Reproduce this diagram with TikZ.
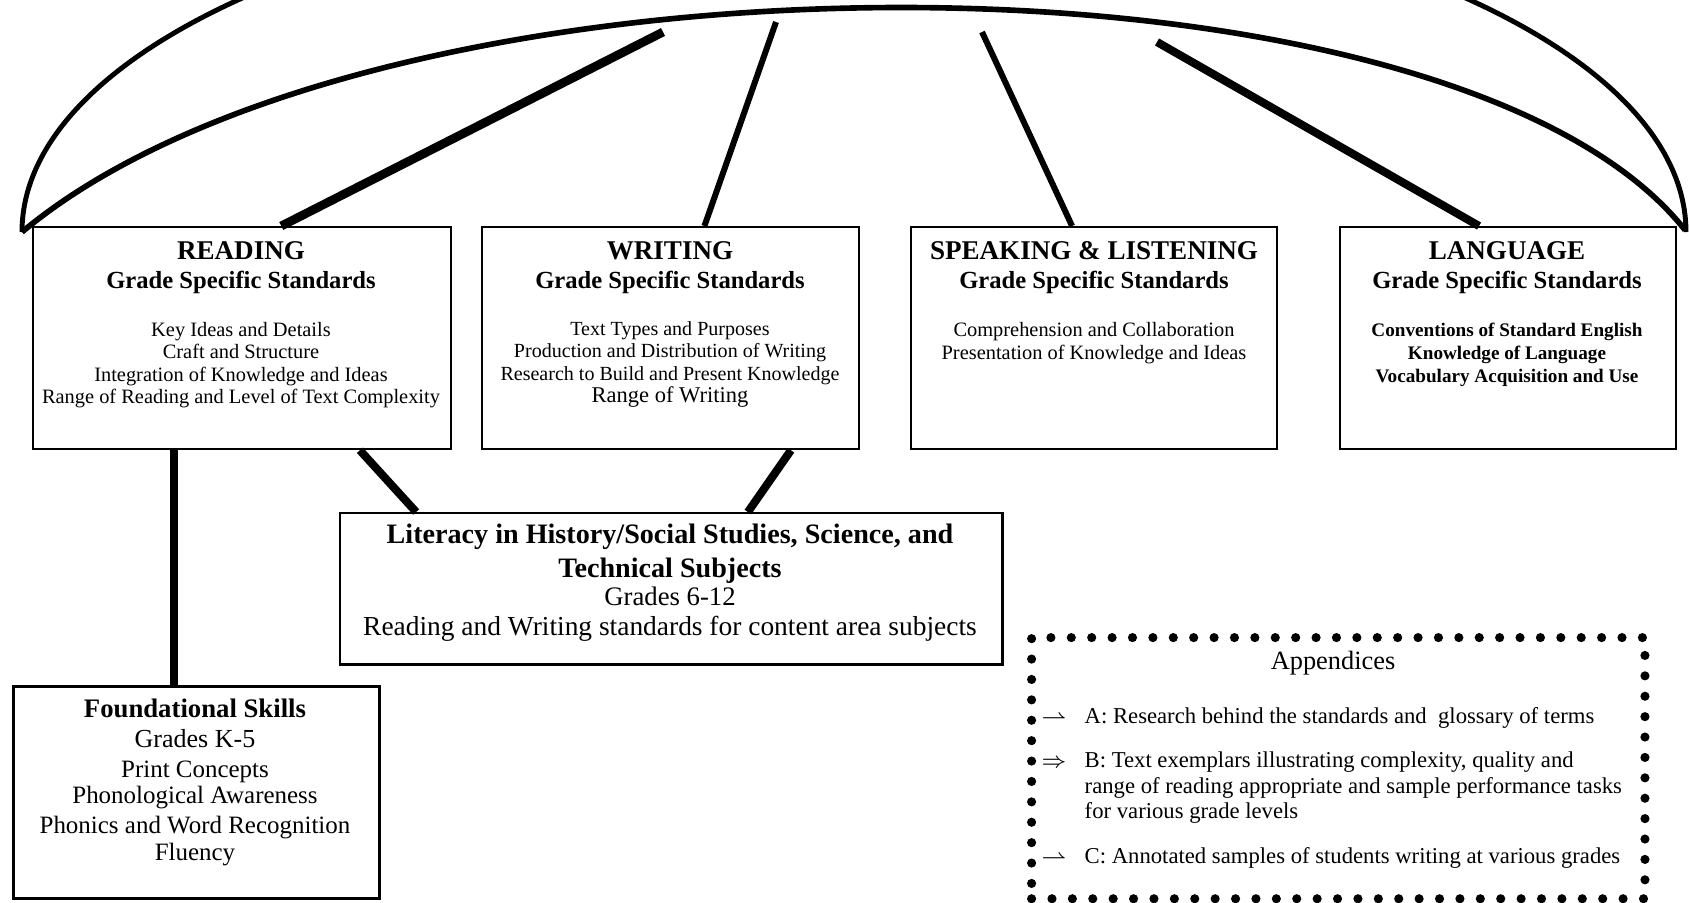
\documentclass[tikz,border=0pt]{standalone}
\usepackage{fontspec}
\setmainfont{Liberation Serif}
\usetikzlibrary{calc}
% one centred/flush line with its own size and distance from the previous baseline
\newcommand{\pline}[3]{{\fontsize{#1}{#2}\selectfont #3\par}}
\begin{document}
\begin{tikzpicture}[x=0.01cm,y=-0.01cm,
  panel/.style={draw, line width=0.6pt, inner sep=0pt, anchor=north west},
  txt/.style={inner sep=0pt, anchor=base, align=flush center},
  link/.style={line width=2.3pt},
  thinlink/.style={line width=1.7pt},
  arcline/.style={line width=1.6pt},
  dotbox/.style={draw, anchor=north west, inner sep=0pt, line width=2.6pt,
                 line cap=round, dash pattern=on 0pt off 5.8pt},
]
\useasboundingbox (0,0) rectangle (1689,902);
\clip (0,0) rectangle (1689,902);

% the two sweeping arcs over the strands
\coordinate (lc) at (22,232);
\coordinate (rc) at (1685,230);
\draw[arcline] (lc) .. controls (380,-67) and (1450,-67) .. (rc);
\draw[arcline, line width=1.4pt] (lc) arc[start angle=180, end angle=0, x radius=8.315cm, y radius=3.45cm];

% strand boxes
\node[panel, minimum width=4.18cm, minimum height=2.22cm] (reading) at (32,226) {};
\node[panel, minimum width=3.77cm, minimum height=2.22cm] (writing) at (481,226) {};
\node[panel, minimum width=3.66cm, minimum height=2.22cm] (speaking) at (910,226) {};
\node[panel, minimum width=3.36cm, minimum height=2.22cm] (language) at (1339,226) {};
\node[panel, line width=0.7pt, minimum width=6.62cm, minimum height=1.51cm] (literacy) at (339,512) {};
\node[panel, line width=0.8pt, minimum width=3.66cm, minimum height=2.12cm] (found) at (12,685) {};
\node[dotbox, minimum width=6.13cm, minimum height=2.61cm] (appendix) at (1027,633) {};

% box texts
\node[txt, text width=4.6cm] (readingtxt) at (241,259) {%
  \pline{7.7pt}{9pt}{\bfseries READING}%
  \pline{7pt}{8.25pt}{\bfseries Grade Specific Standards}%
  \pline{5.8pt}{13.66pt}{Key Ideas and Details}%
  \pline{5.8pt}{6.3pt}{Craft and Structure}%
  \pline{5.8pt}{6.5pt}{Integration of Knowledge and Ideas}%
  \pline{5.8pt}{6.5pt}{Range of Reading and Level of Text Complexity}};

\node[txt, text width=4.2cm] (writingtxt) at (670,259) {%
  \pline{7.7pt}{9pt}{\bfseries WRITING}%
  \pline{7pt}{8.25pt}{\bfseries Grade Specific Standards}%
  \pline{5.7pt}{13.37pt}{Text Types and Purposes}%
  \pline{5.7pt}{6.26pt}{Production and Distribution of Writing}%
  \pline{5.7pt}{6.54pt}{Research to Build and Present Knowledge}%
  \pline{6.4pt}{6.26pt}{Range of Writing}};

\node[txt, text width=4.2cm] (speakingtxt) at (1094,259) {%
  \pline{7.7pt}{9pt}{\bfseries SPEAKING \& LISTENING}%
  \pline{7pt}{8.25pt}{\bfseries Grade Specific Standards}%
  \pline{5.8pt}{13.9pt}{Comprehension and Collaboration}%
  \pline{5.8pt}{6.54pt}{Presentation of Knowledge and Ideas}};

\node[txt, text width=3.8cm] (languagetxt) at (1507,259) {%
  \pline{7.7pt}{9pt}{\bfseries LANGUAGE}%
  \pline{7pt}{8.25pt}{\bfseries Grade Specific Standards}%
  \pline{5.45pt}{13.9pt}{\bfseries Conventions of Standard English}%
  \pline{5.45pt}{6.54pt}{\bfseries Knowledge of Language}%
  \pline{5.45pt}{6.54pt}{\bfseries Vocabulary Acquisition and Use}};

\node[txt, text width=7cm] (literacytxt) at (670,543) {%
  \pline{8pt}{9pt}{\bfseries Literacy in History/Social Studies, Science, and}%
  \pline{8pt}{9.67pt}{\bfseries Technical Subjects}%
  \pline{7.6pt}{7.97pt}{Grades 6-12}%
  \pline{7.8pt}{8.54pt}{Reading and Writing standards for content area subjects}};

\node[txt, text width=4cm] (foundtxt) at (195,717) {%
  \pline{7.6pt}{9pt}{\bfseries Foundational Skills}%
  \pline{7.4pt}{8.54pt}{Grades K-5}%
  \pline{7.1pt}{8.54pt}{Print Concepts}%
  \pline{7.1pt}{7.4pt}{Phonological Awareness}%
  \pline{7.1pt}{8.54pt}{Phonics and Word Recognition}%
  \pline{7.1pt}{7.68pt}{Fluency}};

% appendices
\node[txt] (apptitle) at (1333,669) {\fontsize{7.5pt}{9pt}\selectfont Appendices};
\node[inner sep=0pt, anchor=base west, text width=6.2cm, align=flush left] (apptxt) at (1084,723) {%
  \pline{6.45pt}{7.4pt}{A: Research behind the standards and\ \ glossary of terms}%
  \pline{6.45pt}{12.52pt}{B: Text exemplars illustrating complexity, quality and}%
  \pline{6.45pt}{7.4pt}{range of reading appropriate and sample performance tasks}%
  \pline{6.45pt}{7.1pt}{for various grade levels}%
  \pline{6.45pt}{12.8pt}{C: Annotated samples of students writing at various grades}};
\node[txt] (arrA) at (1054,723) {\fontsize{6.5pt}{7pt}\selectfont$\rightharpoonup$};
\node[txt] (arrB) at (1054,767) {\fontsize{6.5pt}{7pt}\selectfont$\Rightarrow$};
\node[txt] (arrC) at (1054,863) {\fontsize{6.5pt}{7pt}\selectfont$\rightharpoonup$};

% connectors up to the arcs
\coordinate (rtop) at (663,32);
\coordinate (wtop) at (776,22);
\coordinate (spktop) at (982,32);
\coordinate (ltop) at (1157,42);
\draw[link, line width=2.5pt] ($(reading.north west)!0.593!(reading.north east)$) -- (rtop);
\draw[thinlink] ($(writing.north west)!0.589!(writing.north east)$) -- (wtop);
\draw[thinlink] ($(speaking.north west)!0.44!(speaking.north east)$) -- (spktop);
\draw[link] ($(language.north west)!0.414!(language.north east)$) -- (ltop);

% connectors down to literacy and foundational skills
\coordinate (rdbot) at ($(reading.south west)!0.337!(reading.south east)$);
\draw[link] (rdbot) -- (rdbot |- found.north);
\draw[link] ($(reading.south west)!0.78!(reading.south east)$) -- ($(literacy.north west)!0.116!(literacy.north east)$);
\draw[link] ($(writing.south west)!0.817!(writing.south east)$) -- ($(literacy.north west)!0.615!(literacy.north east)$);
\end{tikzpicture}
\end{document}
